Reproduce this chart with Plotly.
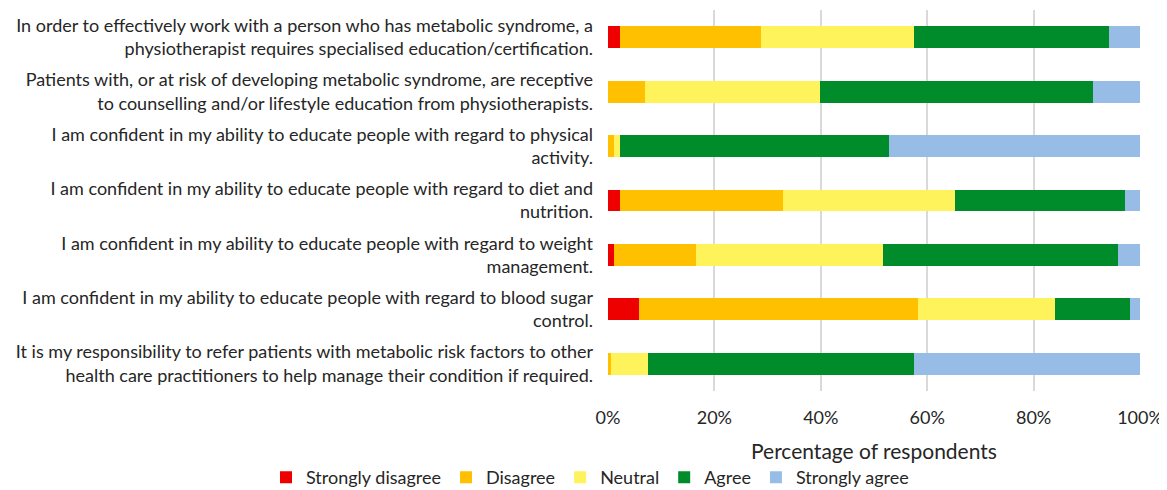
import plotly.graph_objects as go

statements = [
    "In order to effectively work with a person who has metabolic syndrome, a<br>physiotherapist requires specialised education/certification.",
    "Patients with, or at risk of developing metabolic syndrome, are receptive<br>to counselling and/or lifestyle education from physiotherapists.",
    "I am confident in my ability to educate people with regard to physical<br>activity.",
    "I am confident in my ability to educate people with regard to diet and<br>nutrition.",
    "I am confident in my ability to educate people with regard to weight<br>management.",
    "I am confident in my ability to educate people with regard to blood sugar<br>control.",
    "It is my responsibility to refer patients with metabolic risk factors to other<br>health care practitioners to help manage their condition if required.",
]

strongly_disagree = [2.3, 0.0, 0.0, 2.3, 1.1, 5.8, 0.0]
disagree = [26.4, 7.0, 1.1, 30.6, 15.4, 52.4, 0.5]
neutral = [28.9, 32.9, 1.1, 32.4, 35.2, 25.9, 7.0]
agree = [36.5, 51.3, 50.7, 31.8, 44.1, 14.1, 50.1]
strongly_agree = [5.9, 8.8, 47.1, 2.9, 4.2, 1.8, 42.4]

series = [
    ("Strongly disagree", strongly_disagree, "#EE0000"),
    ("Disagree", disagree, "#FFC000"),
    ("Neutral", neutral, "#FFF35C"),
    ("Agree", agree, "#008C2A"),
    ("Strongly agree", strongly_agree, "#97BDE6"),
]

tick_vals = [0, 20, 40, 60, 80, 100]
tick_text = ["0%", "20%", "40%", "60%", "80%", "100%"]

fig = go.Figure()
for name, vals, color in series:
    fig.add_trace(go.Bar(
        y=statements, x=vals, name=name, orientation="h",
        marker=dict(color=color, line=dict(width=0)),
    ))

font = "Lato, 'Open Sans', sans-serif"
W, H = 1159, 490
L, R, T, B = 600, 27, 2, 105
PW, PH = W - L - R, H - T - B

fig.update_layout(
    barmode="stack",
    bargap=0.6,
    width=W, height=H,
    margin=dict(l=L, r=R, t=T, b=B),
    paper_bgcolor="white", plot_bgcolor="white",
    font=dict(family=font, size=18, color="#262626"),
    showlegend=True,
    legend=dict(orientation="h", x=(258 - L) / PW, xanchor="left",
                y=-(472 - (H - B)) / PH, yanchor="middle",
                font=dict(size=18), itemwidth=30, traceorder="normal",
                tracegroupgap=0),
    xaxis=dict(range=[0, 100], tickvals=tick_vals, ticktext=tick_text,
               showgrid=True, gridcolor="#D9D9D9", gridwidth=2,
               zeroline=False, showline=False, ticks="", automargin=False,
               ticklabelstandoff=14, tickfont=dict(size=18)),
    yaxis=dict(autorange="reversed", showgrid=False, zeroline=False,
               showline=False, ticks="", ticklabelstandoff=14, automargin=False,
               tickfont=dict(size=18)),
    annotations=[dict(text="Percentage of respondents", x=0.5, xref="paper",
                      y=-(445 - (H - B)) / PH, yref="paper", yanchor="middle",
                      showarrow=False, font=dict(size=21))],
)

fig.write_html("out.html")
